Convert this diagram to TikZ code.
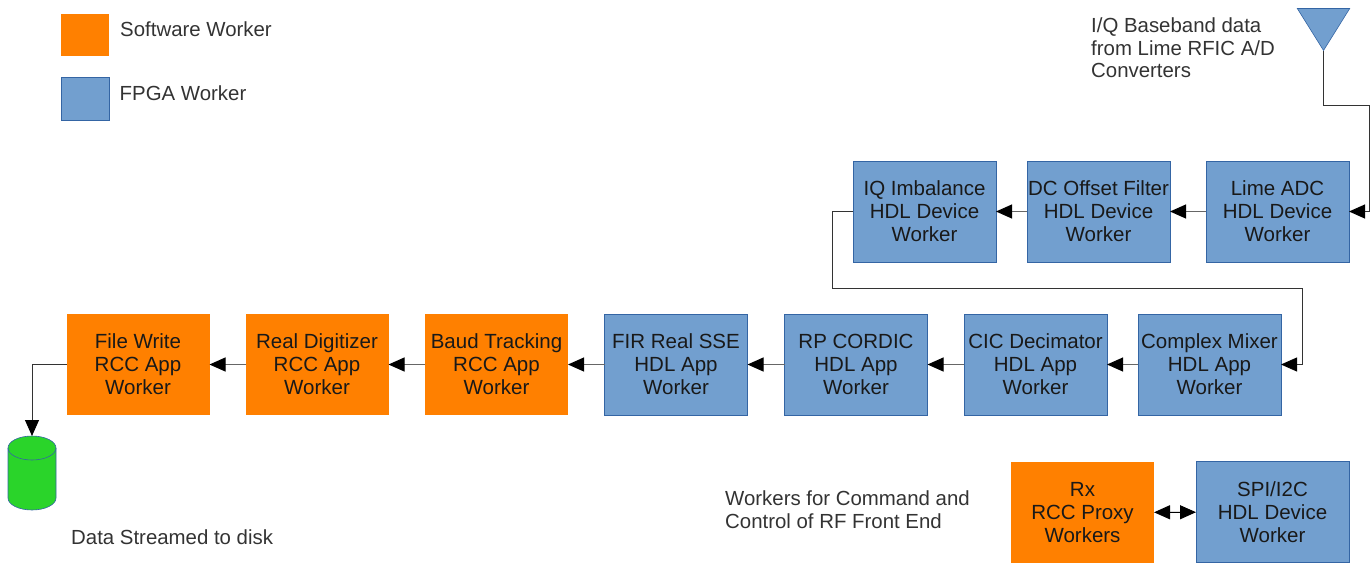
\documentclass[tikz,border=0pt]{standalone}
\usepackage{fontspec}
\setmainfont{Liberation Sans}
\usepackage{xcolor}
\usetikzlibrary{arrows.meta,positioning,shapes.geometric}
\definecolor{fpgablue}{HTML}{729FCF}
\definecolor{fpgaline}{HTML}{3465A4}
\definecolor{rccorange}{HTML}{FF8000}
\definecolor{diskgreen}{HTML}{2AD42A}
\begin{document}
\begin{tikzpicture}[x=1pt,y=-1pt,>={Triangle[length=16pt,width=14pt,black]},
					main node/.style={rectangle,minimum width=143pt,minimum height=101pt,inner sep=0pt,outer sep=0pt,align=center,font=\fontsize{20.5}{23}\selectfont,text=black!90},
					fpga node/.style={main node,fill=fpgablue,draw=fpgaline,line width=0.6pt},
					rcc node/.style={main node,fill=rccorange},
					label node/.style={inner sep=0pt,align=left,font=\fontsize{20.4}{22.5}\selectfont,text=black!80},
					link/.style={->,draw=black!60,line width=1pt},
					wire/.style={->,draw=black!80,line width=1pt}]
					\useasboundingbox (0,0) rectangle (1372,563);
					
					\node[rcc node] (filewrite) at (138,364.5) {File Write\\RCC App\\Worker};
					\node[rcc node] (digitizer) [right=36pt of filewrite] {Real Digitizer\\RCC App\\Worker};
					\node[rcc node] (baud) [right=36.5pt of digitizer] {Baud Tracking\\RCC App\\Worker};
					\node[fpga node] (fir) [right=36.5pt of baud] {FIR Real SSE\\HDL App\\Worker};
					\node[fpga node] (cordic) [right=37pt of fir] {RP CORDIC\\HDL App\\Worker};
					\node[fpga node] (cic) [right=36.5pt of cordic] {CIC Decimator\\HDL App\\Worker};
					\node[fpga node] (mixer) [right=31pt of cic] {Complex Mixer\\HDL App\\Worker};
					
					\node[fpga node] (imbalance) at (924.5,211.5) {IQ Imbalance\\HDL Device\\Worker};
					\node[fpga node] (offset) [right=31pt of imbalance] {DC Offset Filter\\HDL Device\\Worker};
					\node[fpga node] (adc) [right=36pt of offset] {Lime ADC\\HDL Device\\Worker};
					
					\node[rcc node] (proxy) at (1082.5,512.5) {Rx\\RCC Proxy\\Workers};
					\node[fpga node,minimum width=153pt] (spi) at (1272.5,512) {SPI/I2C\\HDL Device\\Worker};
					
					\node[rcc node,minimum width=48pt,minimum height=42pt] (legendrcc) at (85,35) {};
					\node[fpga node,minimum width=48pt,minimum height=43pt] (legendfpga) at (85,98.5) {};
					\node[label node] (legendrcctext) at (196,29.5) {Software Worker};
					\node[label node] (legendfpgatext) at (183,93.5) {FPGA Worker};
					
					\node[minimum width=48pt,minimum height=74pt,inner sep=0pt,outer sep=0pt] (disk) at (32,473) {};
					\draw[fill=diskgreen,draw=fpgaline,line width=0.6pt] (8,448) arc[start angle=180,end angle=360,x radius=24,y radius=12] -- (56,498) arc[start angle=0,end angle=180,x radius=24,y radius=12] -- cycle;
					\draw[draw=fpgaline,line width=0.6pt] (56,448) arc[start angle=0,end angle=180,x radius=24,y radius=12];
					\node[isosceles triangle,isosceles triangle apex angle=64,shape border rotate=-90,minimum height=42pt,inner sep=0pt,fill=fpgablue,draw=fpgaline,line width=0.6pt] (antenna) at (1323.5,23) {};
					
					\node[label node,anchor=north west] (basebandtext) at (1091,18) {I/Q Baseband data\\from Lime RFIC A/D\\Converters};
					\node[label node,anchor=north west] (disktext) at (71,530) {Data Streamed to disk};
					\node[label node,anchor=north west] (controltext) at (725,491) {Workers for Command and\\Control of RF Front End};
					
					\coordinate (antennacorner) at (1369,105);
					\coordinate (imbalanceleft) at (832,288);
					\coordinate (mixerright) at (1302,288);
					
					\draw[wire] (antenna.apex) |- (antennacorner) |- (adc.east);
					\draw[link] (adc) -- (offset);
					\draw[link] (offset) -- (imbalance);
					\draw[wire,line width=0.8pt] (imbalance.west) -| (imbalanceleft) -| (mixerright) |- (mixer.east);
					\draw[link] (mixer) -- (cic);
					\draw[link] (cic) -- (cordic);
					\draw[link] (cordic) -- (fir);
					\draw[link] (fir) -- (baud);
					\draw[link] (baud) -- (digitizer);
					\draw[link] (digitizer) -- (filewrite);
					\draw[wire] (filewrite.west) -| (disk.north);
					\draw[<->,draw=black,line width=1pt] (proxy) -- (spi);
					
\end{tikzpicture}
\end{document}
